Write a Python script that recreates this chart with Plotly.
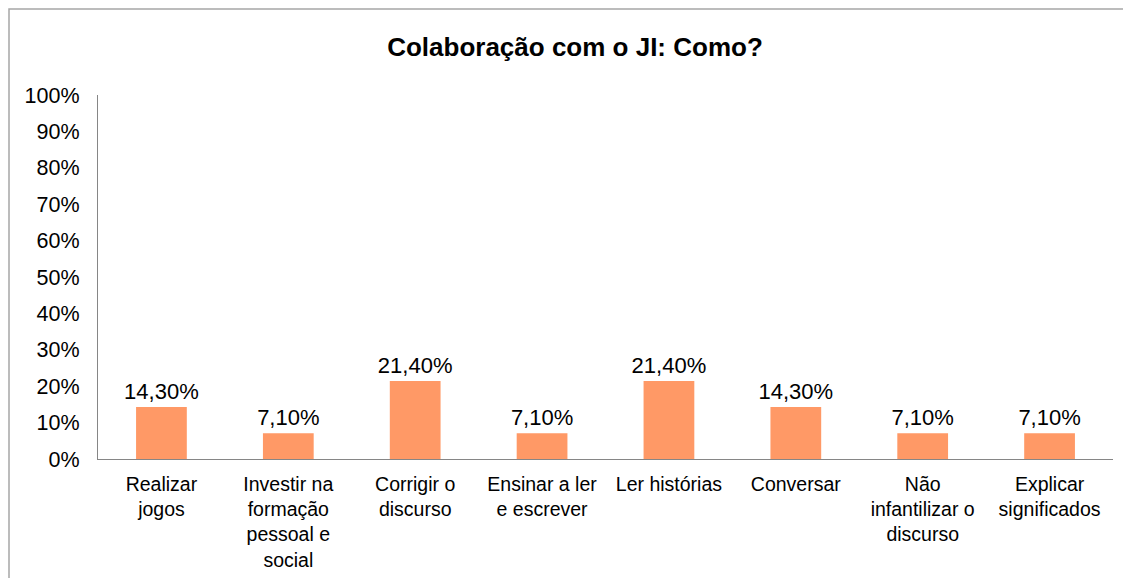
import plotly.graph_objects as go

categories = ["Realizar<br>jogos", "Investir na<br>formação<br>pessoal e<br>social", "Corrigir o<br>discurso",
              "Ensinar a ler<br>e escrever", "Ler histórias", "Conversar",
              "Não<br>infantilizar o<br>discurso", "Explicar<br>significados"]
values = [0.143, 0.071, 0.214, 0.071, 0.214, 0.143, 0.071, 0.071]
title = "Colaboração com o JI: Como?"

OFF = 8  # default body margin of the html page
W, H = 1131 - OFF, 578 - OFF
L, R, T, B = 98 - OFF, 18, 95 - OFF, 119
pw, ph = W - L - R, H - T - B

fig = go.Figure(go.Bar(
    x=categories, y=values,
    marker=dict(color="#FF9966", line=dict(width=0)),
    texttemplate="%{y:.2%}", textposition="outside", constraintext="none",
    textfont=dict(family="Liberation Sans, Arial", size=22, color="#000000"),
    cliponaxis=False,
))

fig.update_layout(
    width=W, height=H,
    margin=dict(l=L, r=R, t=T, b=B, pad=0, autoexpand=False),
    paper_bgcolor="white", plot_bgcolor="white",
    separators=",.",
    bargap=0.6,
    showlegend=False,
    font=dict(family="Liberation Sans, Arial", size=21.5, color="#000000"),
    title=dict(text="<b>" + title + "</b>", x=(575 - OFF) / W, xref="container", xanchor="center",
               y=1 - (47 - OFF) / H, yref="container", yanchor="middle",
               font=dict(size=26, color="#000000")),
    xaxis=dict(showline=True, linecolor="#868686", linewidth=1.3, ticks="", automargin=False,
               tickfont=dict(size=19.5), showgrid=False, ticklabelstandoff=7),
    yaxis=dict(range=[0, 1], dtick=0.1, tickformat=".0%", showline=True, linecolor="#868686",
               linewidth=1.3, ticks="", showgrid=False, zeroline=False, automargin=False,
               tickfont=dict(size=21.5), ticklabelstandoff=13),
    shapes=[dict(type="rect", xref="paper", yref="paper",
                 x0=(1 - L) / pw, x1=1.2, y0=-0.6, y1=(H - B - 1) / ph,
                 line=dict(color="#A6A6A6", width=1.5), fillcolor="rgba(0,0,0,0)", layer="below")],
)

fig.write_html("out.html")
